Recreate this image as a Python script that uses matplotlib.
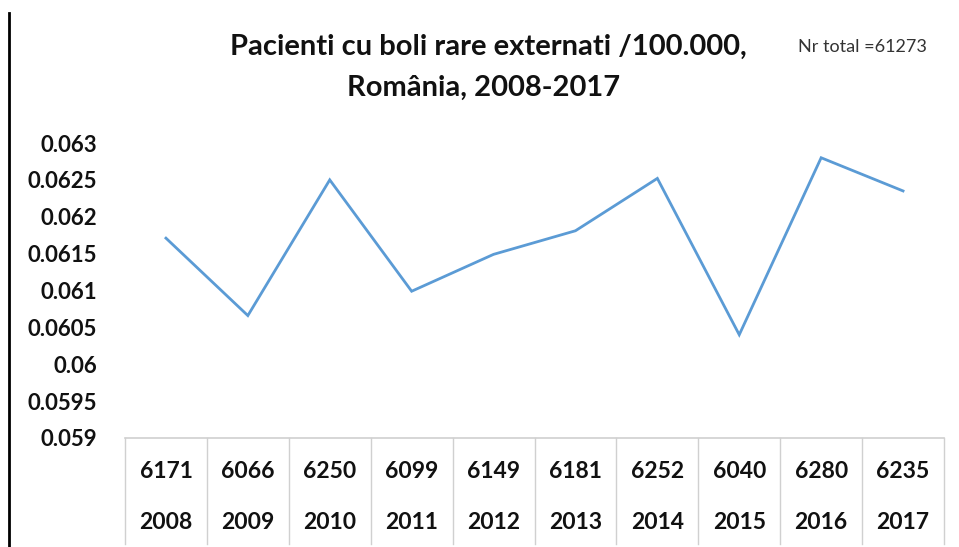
import matplotlib
matplotlib.use("Agg")
import matplotlib.pyplot as plt

years = ["2008", "2009", "2010", "2011", "2012", "2013", "2014", "2015", "2016", "2017"]
patients = ["6171", "6066", "6250", "6099", "6149", "6181", "6252", "6040", "6280", "6235"]
rates = [0.06171, 0.06066, 0.06250, 0.06099, 0.06149, 0.06181, 0.06252, 0.06040, 0.06280, 0.06235]
y_ticks = [0.059, 0.0595, 0.06, 0.0605, 0.061, 0.0615, 0.062, 0.0625, 0.063]
y_labels = ["0.059", "0.0595", "0.06", "0.0605", "0.061", "0.0615", "0.062", "0.0625", "0.063"]

plt.rcParams['font.family'] = ['Lato', 'DejaVu Sans']

W, H = 959, 547
fig = plt.figure(figsize=(W / 100, H / 100), dpi=100)
ax = fig.add_axes([125 / W, 1 - 438 / H, (944 - 125) / W, (438 - 143) / H])

x = list(range(len(years)))
ax.plot(x, rates, color='#5b9bd5', linewidth=2.0, solid_joinstyle='miter')

ax.set_xlim(-0.5, len(years) - 0.5)
ax.set_ylim(0.059, 0.063)
ax.set_yticks(y_ticks)
ax.set_yticklabels(y_labels, fontsize=16, fontweight='bold', color='#111111')
ax.set_xticks([])
ax.tick_params(axis='y', length=0, pad=20)
for spine in ax.spines.values():
    spine.set_visible(False)

# data table under the plot
grid_col = '#d0d0d0'
ax.plot([-0.5, len(years) - 0.5], [0, 0], transform=ax.get_xaxis_transform(),
        color=grid_col, linewidth=1.2, clip_on=False)
for i in range(len(years) + 1):
    ax.plot([i - 0.5, i - 0.5], [0, -0.36], transform=ax.get_xaxis_transform(),
            color=grid_col, linewidth=1.0, clip_on=False)
for i, (n, yr) in enumerate(zip(patients, years)):
    ax.text(i, -0.115, n, transform=ax.get_xaxis_transform(), ha='center', va='center',
            fontsize=16.5, fontweight='bold', color='#111111')
    ax.text(i, -0.285, yr, transform=ax.get_xaxis_transform(), ha='center', va='center',
            fontsize=16.5, fontweight='bold', color='#111111')

# titles
fig.text(488 / W, 1 - 47 / H, "Pacienti cu boli rare externati /100.000,", ha='center', va='center',
         fontsize=21, fontweight='bold', color='#111111')
fig.text(484 / W, 1 - 88 / H, "România, 2008-2017", ha='center', va='center',
         fontsize=21, fontweight='bold', color='#111111')
fig.text(862 / W, 1 - 47 / H, "Nr total =61273", ha='center', va='center',
         fontsize=13, color='#333333')

# left border line
fig.add_artist(plt.Line2D([9 / W, 9 / W], [1 - 13 / H, 0], color='black', linewidth=2))

fig.savefig("out.png", dpi=100)
